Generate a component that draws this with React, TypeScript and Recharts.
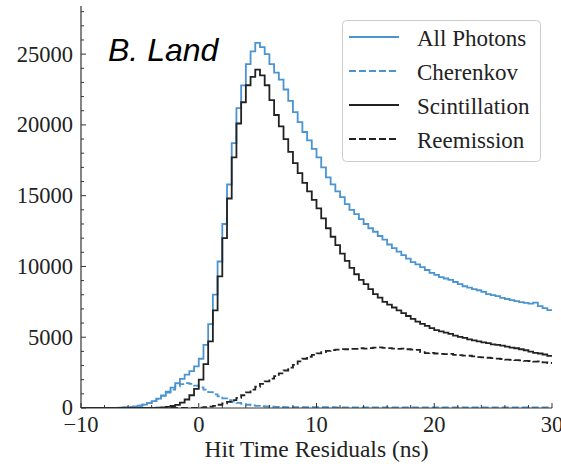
import React from 'react';
import { LineChart, Line, XAxis, YAxis } from 'recharts';

const BIN_START = -10;
const BIN_WIDTH = 0.4;

const ALL_PHOTONS = [
  0, 0, 0, 0, 0, 0, 0, 10, 20, 35,
  60, 100, 160, 240, 340, 490, 660, 890, 1160, 1440,
  1750, 2060, 2360, 2600, 2940, 3480, 4460, 5920, 8010, 10350,
  13000, 15790, 18710, 21180, 22790, 24300, 25200, 25800, 25500, 25000,
  24300, 23700, 23200, 22500, 21700, 20900, 20200, 19500, 18900, 18300,
  17700, 17000, 16300, 15800, 15300, 14900, 14400, 14000, 13700, 13350,
  13000, 12700, 12450, 12150, 11900, 11550, 11300, 11050, 10800, 10550,
  10300, 10150, 9950, 9750, 9550, 9400, 9250, 9150, 9050, 8900,
  8750, 8600, 8500, 8400, 8320, 8200, 8050, 7980, 7900, 7780,
  7700, 7620, 7550, 7480, 7420, 7380, 7450, 7200, 7050, 6920,
];

const CHERENKOV = [
  0, 0, 0, 0, 0, 0, 0, 10, 20, 35,
  60, 100, 160, 240, 340, 480, 640, 850, 1080, 1300,
  1530, 1680, 1760, 1700, 1580, 1450, 1300, 1120, 960, 820,
  680, 560, 450, 360, 290, 230, 185, 150, 125, 105,
  90, 80, 72, 66, 62, 60, 58, 57, 56, 55,
  54, 53, 53, 52, 51, 50, 50, 49, 49, 48,
  48, 47, 47, 46, 46, 46, 45, 45, 45, 44,
  44, 44, 43, 43, 43, 42, 42, 42, 42, 41,
  41, 41, 41, 40, 40, 40, 40, 39, 39, 39,
  39, 38, 38, 38, 38, 37, 37, 37, 37, 36,
];

const SCINTILLATION = [
  0, 0, 0, 0, 0, 0, 0, 0, 0, 0,
  0, 0, 0, 0, 0, 10, 20, 40, 80, 140,
  220, 380, 600, 900, 1350, 2000, 3100, 4700, 6900, 9300,
  12000, 14800, 17700, 20100, 21600, 22800, 23400, 23900, 23500, 22800,
  21750, 20700, 19900, 19000, 18100, 17300, 16600, 15900, 15300, 14700,
  14100, 13400, 12700, 12100, 11500, 10900, 10400, 9900, 9450, 9050,
  8750, 8400, 8050, 7800, 7500, 7300, 7100, 6900, 6700, 6500,
  6300, 6100, 5950, 5800, 5650, 5500, 5420, 5330, 5230, 5120,
  5020, 4950, 4850, 4780, 4700, 4630, 4580, 4500, 4460, 4400,
  4330, 4260, 4220, 4150, 4080, 3980, 3900, 3850, 3780, 3680,
];

const REEMISSION = [
  0, 0, 0, 0, 0, 0, 0, 0, 0, 0,
  0, 0, 0, 0, 0, 0, 0, 0, 0, 0,
  0, 0, 0, 0, 10, 30, 60, 100, 150, 230,
  320, 430, 560, 720, 900, 1100, 1300, 1500, 1700, 1880,
  2070, 2250, 2450, 2650, 2850, 3050, 3300, 3480, 3620, 3750,
  3860, 3950, 4030, 4090, 4130, 4160, 4150, 4180, 4170, 4220,
  4200, 4230, 4270, 4290, 4250, 4230, 4200, 4180, 4200, 4150,
  4120, 4100, 3950, 3870, 3900, 3850, 3830, 3800, 3820, 3760,
  3740, 3700, 3690, 3650, 3600, 3580, 3550, 3520, 3490, 3460,
  3420, 3400, 3380, 3360, 3330, 3320, 3280, 3300, 3230, 3180,
];

const SERIES_LABELS = ['All Photons', 'Cherenkov', 'Scintillation', 'Reemission'];
const X_MAJOR = [-10, 0, 10, 20, 30];
const X_MINOR = [-10, -8, -6, -4, -2, 0, 2, 4, 6, 8, 10, 12, 14, 16, 18, 20, 22, 24, 26, 28, 30];
const Y_MAJOR = [0, 5000, 10000, 15000, 20000, 25000];
const Y_MINOR = [
  0, 1000, 2000, 3000, 4000, 5000, 6000, 7000, 8000, 9000, 10000, 11000, 12000, 13000, 14000,
  15000, 16000, 17000, 18000, 19000, 20000, 21000, 22000, 23000, 24000, 25000, 26000, 27000, 28000,
];
const X_DOMAIN: [number, number] = [-10, 30];
const Y_DOMAIN: [number, number] = [0, 28400];

const BLUE = '#4a94d2';
const BLACK = '#222222';
const AXIS = '#333333';
const SERIF = '"Liberation Serif", "Times New Roman", serif';
const DASH = '7 3';

const data = Array.from({ length: ALL_PHOTONS.length + 1 }, (_, i) => {
  const j = Math.min(i, ALL_PHOTONS.length - 1);
  return {
    t: Number((BIN_START + i * BIN_WIDTH).toFixed(2)),
    all: ALL_PHOTONS[j],
    cher: CHERENKOV[j],
    scint: SCINTILLATION[j],
    reem: REEMISSION[j],
  };
});

const isIn = (arr: number[], v: number) => arr.some((m) => Math.abs(m - v) < 1e-6);
const fmt = (v: number) => (v < 0 ? '\u2212' + Math.abs(v) : String(v));

function tickFactory(side: 'bottom' | 'top' | 'left' | 'right', majors: number[], labels: boolean) {
  return (props: any) => {
    const { x, y, payload } = props;
    const v = payload.value as number;
    const major = isIn(majors, v);
    const len = major ? 5 : 3;
    let line;
    if (side === 'bottom') line = <line x1={x} y1={y} x2={x} y2={y - len} stroke={AXIS} strokeWidth={1} />;
    else if (side === 'top') line = <line x1={x} y1={y} x2={x} y2={y + len} stroke={AXIS} strokeWidth={1} />;
    else if (side === 'left') line = <line x1={x} y1={y} x2={x + len} y2={y} stroke={AXIS} strokeWidth={1} />;
    else line = <line x1={x} y1={y} x2={x - len} y2={y} stroke={AXIS} strokeWidth={1} />;
    let label = null;
    if (labels && major) {
      if (side === 'bottom') {
        label = (
          <text x={x} y={y + 24} textAnchor="middle" fill="#222" fontSize={22.5} fontFamily={SERIF}>
            {fmt(v)}
          </text>
        );
      } else if (side === 'left') {
        label = (
          <text x={x - 8} y={y} dy="0.33em" textAnchor="end" fill="#222" fontSize={22.5} fontFamily={SERIF}>
            {fmt(v)}
          </text>
        );
      }
    }
    return (
      <g>
        {line}
        {label}
      </g>
    );
  };
}

const LEGEND_ITEMS = [
  { color: BLUE, dash: undefined as string | undefined },
  { color: BLUE, dash: DASH },
  { color: BLACK, dash: undefined as string | undefined },
  { color: BLACK, dash: DASH },
];

export default function App() {
  return (
    <div style={{ position: 'absolute', left: 0, top: 0, width: 561, height: 464, background: '#fff' }}>
      <LineChart width={561} height={464} data={data} margin={{ top: 6, right: 9, bottom: 0, left: 0 }}>
        <XAxis
          xAxisId="b"
          type="number"
          dataKey="t"
          domain={X_DOMAIN}
          allowDataOverflow
          ticks={X_MINOR}
          interval={0}
          height={56}
          tickSize={0}
          tickMargin={0}
          tickLine={false}
          axisLine={{ stroke: AXIS, strokeWidth: 1.2 }}
          tick={tickFactory('bottom', X_MAJOR, true)}
          label={{
            value: 'Hit Time Residuals (ns)',
            position: 'insideBottom',
            offset: 7,
            fill: '#222',
            fontSize: 23.5,
            fontFamily: SERIF,
          }}
        />
        <XAxis
          xAxisId="t"
          orientation="top"
          type="number"
          dataKey="t"
          domain={X_DOMAIN}
          allowDataOverflow
          ticks={X_MINOR}
          interval={0}
          height={0}
          tickSize={0}
          tickMargin={0}
          tickLine={false}
          axisLine={{ stroke: AXIS, strokeWidth: 1.2 }}
          tick={tickFactory('top', X_MAJOR, false)}
        />
        <YAxis
          yAxisId="l"
          type="number"
          domain={Y_DOMAIN}
          allowDataOverflow
          ticks={Y_MINOR}
          interval={0}
          width={81}
          tickSize={0}
          tickMargin={0}
          tickLine={false}
          axisLine={{ stroke: AXIS, strokeWidth: 1.2 }}
          tick={tickFactory('left', Y_MAJOR, true)}
        />
        <YAxis
          yAxisId="r"
          orientation="right"
          type="number"
          domain={Y_DOMAIN}
          allowDataOverflow
          ticks={Y_MINOR}
          interval={0}
          width={0}
          tickSize={0}
          tickMargin={0}
          tickLine={false}
          axisLine={{ stroke: AXIS, strokeWidth: 1.2 }}
          tick={tickFactory('right', Y_MAJOR, false)}
        />
        <Line xAxisId="b" yAxisId="l" type="stepAfter" dataKey="all" name={SERIES_LABELS[0]} stroke={BLUE} strokeWidth={1.8} dot={false} isAnimationActive={false} />
        <Line xAxisId="b" yAxisId="l" type="stepAfter" dataKey="cher" name={SERIES_LABELS[1]} stroke={BLUE} strokeWidth={1.8} strokeDasharray={DASH} dot={false} isAnimationActive={false} />
        <Line xAxisId="b" yAxisId="l" type="stepAfter" dataKey="scint" name={SERIES_LABELS[2]} stroke={BLACK} strokeWidth={1.8} dot={false} isAnimationActive={false} />
        <Line xAxisId="b" yAxisId="l" type="stepAfter" dataKey="reem" name={SERIES_LABELS[3]} stroke={BLACK} strokeWidth={1.8} strokeDasharray={DASH} dot={false} isAnimationActive={false} />
      </LineChart>
      <svg width={561} height={464} style={{ position: 'absolute', left: 0, top: 0, pointerEvents: 'none' }}>
        <text x={108} y={61} fontFamily='"Liberation Sans", Arial, sans-serif' fontStyle="italic" fontSize={32} fill="#000">
          B. Land
        </text>
        <rect x={342.5} y={20.5} width={198} height={141} rx={4} ry={4} fill="#fff" fillOpacity={0.8} stroke="#cccccc" strokeWidth={1} />
        {SERIES_LABELS.map((name, k) => {
          const yLine = 37 + k * 34;
          const item = LEGEND_ITEMS[k];
          return (
            <g key={name}>
              <line x1={349} y1={yLine} x2={399} y2={yLine} stroke={item.color} strokeWidth={1.8} strokeDasharray={item.dash} />
              <text x={417} y={yLine + 9} fontFamily={SERIF} fontSize={23} fill="#222">
                {name}
              </text>
            </g>
          );
        })}
      </svg>
    </div>
  );
}
